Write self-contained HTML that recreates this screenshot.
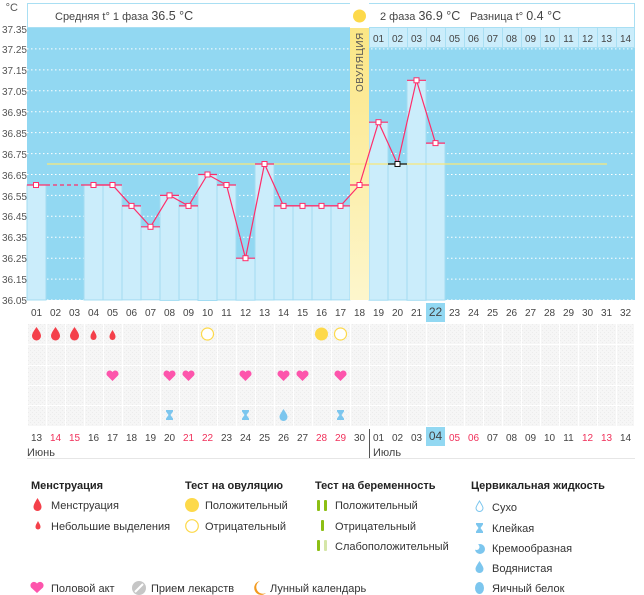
<!DOCTYPE html>
<html><head><meta charset="utf-8"><style>
body{margin:0;background:#fff;}
svg{display:block;font-family:"Liberation Sans",sans-serif;}
</style></head><body>
<svg width="644" height="595" viewBox="0 0 644 595" xmlns="http://www.w3.org/2000/svg">
<defs>
<linearGradient id="ov" x1="0" y1="0" x2="0" y2="1"><stop offset="0" stop-color="#fbe57e"/><stop offset="1" stop-color="#fdf6cc"/></linearGradient>
<pattern id="hat" width="4" height="4" patternUnits="userSpaceOnUse"><rect width="4" height="4" fill="#f6f6f6"/><rect width="1" height="1" fill="#ececec"/><rect x="2" y="2" width="1" height="1" fill="#ececec"/></pattern>
<pattern id="cols" x="27" y="0" width="19" height="600" patternUnits="userSpaceOnUse"><rect x="0" y="0" width="1" height="600" fill="#fff"/></pattern>
</defs>
<!-- header -->
<rect x="27.5" y="3.5" width="607" height="24" fill="#fff" stroke="#a9dff3"/>
<text x="55" y="20" font-size="11" fill="#444">Средняя t° 1 фаза <tspan font-size="12.5">36.5 °C</tspan></text>
<text x="380" y="20" font-size="11" fill="#444">2 фаза <tspan font-size="12.5">36.9 °C</tspan></text>
<text x="470" y="20" font-size="11" fill="#444">Разница t° <tspan font-size="12.5">0.4 °C</tspan></text>
<!-- plot bg -->
<rect x="27" y="28" width="608" height="272" fill="#92d8f2"/>
<!-- gridlines -->
<g stroke="#fff" stroke-dasharray="1.5,2.5" stroke-width="1">
<line x1="27" x2="635" y1="48.9" y2="48.9"/><line x1="27" x2="635" y1="69.9" y2="69.9"/><line x1="27" x2="635" y1="90.8" y2="90.8"/><line x1="27" x2="635" y1="111.7" y2="111.7"/><line x1="27" x2="635" y1="132.6" y2="132.6"/><line x1="27" x2="635" y1="153.6" y2="153.6"/><line x1="27" x2="635" y1="174.5" y2="174.5"/><line x1="27" x2="635" y1="195.4" y2="195.4"/><line x1="27" x2="635" y1="216.3" y2="216.3"/><line x1="27" x2="635" y1="237.3" y2="237.3"/><line x1="27" x2="635" y1="258.2" y2="258.2"/><line x1="27" x2="635" y1="279.1" y2="279.1"/><line x1="27" x2="635" y1="300" y2="300"/>
</g>
<!-- bars -->
<g fill="#cbedfb" stroke="#a3dcf2" stroke-width="1">
<rect x="27" y="185" width="19" height="115"/>
<rect x="84" y="185" width="19" height="115"/><rect x="103" y="185" width="19" height="115"/>
<rect x="122" y="205.9" width="19" height="94"/><rect x="141" y="226.8" width="19" height="73"/>
<rect x="160" y="195.4" width="19" height="105"/><rect x="179" y="205.9" width="19" height="94"/>
<rect x="198" y="174.5" width="19" height="126"/><rect x="217" y="185" width="19" height="115"/>
<rect x="236" y="258.2" width="19" height="42"/><rect x="255" y="164" width="19" height="136"/>
<rect x="274" y="205.9" width="19" height="94"/><rect x="293" y="205.9" width="19" height="94"/>
<rect x="312" y="205.9" width="19" height="94"/><rect x="331" y="205.9" width="19" height="94"/>
<rect x="369" y="122.2" width="19" height="178"/><rect x="388" y="164" width="19" height="136"/>
<rect x="407" y="80.3" width="19" height="220"/><rect x="426" y="143.1" width="19" height="157"/>
</g>
<!-- phase 2 header row -->
<g fill="#cbedfb" stroke="#a9dff3">
<rect x="369.5" y="27.5" width="19" height="20"/><rect x="388.5" y="27.5" width="19" height="20"/><rect x="407.5" y="27.5" width="19" height="20"/><rect x="426.5" y="27.5" width="19" height="20"/><rect x="445.5" y="27.5" width="19" height="20"/><rect x="464.5" y="27.5" width="19" height="20"/><rect x="483.5" y="27.5" width="19" height="20"/><rect x="502.5" y="27.5" width="19" height="20"/><rect x="521.5" y="27.5" width="19" height="20"/><rect x="540.5" y="27.5" width="19" height="20"/><rect x="559.5" y="27.5" width="19" height="20"/><rect x="578.5" y="27.5" width="19" height="20"/><rect x="597.5" y="27.5" width="19" height="20"/><rect x="616.5" y="27.5" width="18" height="20"/>
</g>
<g font-size="10" fill="#444" text-anchor="middle">
<text x="378.5" y="42">01</text><text x="397.5" y="42">02</text><text x="416.5" y="42">03</text><text x="435.5" y="42">04</text><text x="454.5" y="42">05</text><text x="473.5" y="42">06</text><text x="492.5" y="42">07</text><text x="511.5" y="42">08</text><text x="530.5" y="42">09</text><text x="549.5" y="42">10</text><text x="568.5" y="42">11</text><text x="587.5" y="42">12</text><text x="606.5" y="42">13</text><text x="625.5" y="42">14</text>
</g>
<!-- ovulation column -->
<rect x="350" y="3" width="19" height="297" fill="url(#ov)"/>
<rect x="350" y="3" width="19" height="25" fill="#fff"/>
<circle cx="359.5" cy="16" r="6.5" fill="#fdd94a"/>
<text transform="translate(363,92) rotate(-90)" font-size="10" fill="#555" letter-spacing="0.5">ОВУЛЯЦИЯ</text>
<!-- average line -->
<line x1="47" x2="607" y1="164" y2="164" stroke="#f8e77a" stroke-width="1.2"/>
<!-- horizontal value ticks -->
<g stroke="#ff2d6a" stroke-width="1.2">
<line x1="27" x2="46" y1="185" y2="185"/><line x1="84" x2="103" y1="185" y2="185"/><line x1="103" x2="122" y1="185" y2="185"/><line x1="122" x2="141" y1="205.9" y2="205.9"/><line x1="141" x2="160" y1="226.8" y2="226.8"/><line x1="160" x2="179" y1="195.4" y2="195.4"/><line x1="179" x2="198" y1="205.9" y2="205.9"/><line x1="198" x2="217" y1="174.5" y2="174.5"/><line x1="217" x2="236" y1="185" y2="185"/><line x1="236" x2="255" y1="258.2" y2="258.2"/><line x1="255" x2="274" y1="164" y2="164"/><line x1="274" x2="293" y1="205.9" y2="205.9"/><line x1="293" x2="312" y1="205.9" y2="205.9"/><line x1="312" x2="331" y1="205.9" y2="205.9"/><line x1="331" x2="350" y1="205.9" y2="205.9"/><line x1="350" x2="369" y1="185" y2="185"/><line x1="369" x2="388" y1="122.2" y2="122.2"/><line x1="407" x2="426" y1="80.3" y2="80.3"/><line x1="426" x2="445" y1="143.1" y2="143.1"/>
<line x1="46" x2="84" y1="185" y2="185" stroke-dasharray="4,3"/>
</g>
<line x1="388" x2="407" y1="164" y2="164" stroke="#111" stroke-width="1.2"/>
<polyline fill="none" stroke="#ff2d6a" stroke-width="1.2" points="93.5,185 112.5,185 131.5,205.9 150.5,226.8 169.5,195.4 188.5,205.9 207.5,174.5 226.5,185 245.5,258.2 264.5,164 283.5,205.9 302.5,205.9 321.5,205.9 340.5,205.9 359.5,185 378.5,122.2 397.5,164 416.5,80.3 435.5,143.1"/>
<g fill="#fff" stroke="#ff2d6a" stroke-width="1">
<rect x="33.5" y="182.5" width="5" height="5"/><rect x="91" y="182.5" width="5" height="5"/><rect x="110" y="182.5" width="5" height="5"/><rect x="129" y="203.4" width="5" height="5"/><rect x="148" y="224.3" width="5" height="5"/><rect x="167" y="192.9" width="5" height="5"/><rect x="186" y="203.4" width="5" height="5"/><rect x="205" y="172" width="5" height="5"/><rect x="224" y="182.5" width="5" height="5"/><rect x="243" y="255.7" width="5" height="5"/><rect x="262" y="161.5" width="5" height="5"/><rect x="281" y="203.4" width="5" height="5"/><rect x="300" y="203.4" width="5" height="5"/><rect x="319" y="203.4" width="5" height="5"/><rect x="338" y="203.4" width="5" height="5"/><rect x="357" y="182.5" width="5" height="5"/><rect x="376" y="119.7" width="5" height="5"/><rect x="414" y="77.8" width="5" height="5"/><rect x="433" y="140.6" width="5" height="5"/>
</g>
<rect x="395" y="161.5" width="5" height="5" fill="#fff" stroke="#111"/>
<!-- y axis labels -->
<g font-size="10" fill="#555" text-anchor="end">
<text x="18" y="11" font-size="11">°C</text>
<text x="27" y="33">37.35</text><text x="27" y="53">37.25</text><text x="27" y="74">37.15</text><text x="27" y="95">37.05</text><text x="27" y="116">36.95</text><text x="27" y="137">36.85</text><text x="27" y="158">36.75</text><text x="27" y="179">36.65</text><text x="27" y="200">36.55</text><text x="27" y="220">36.45</text><text x="27" y="241">36.35</text><text x="27" y="262">36.25</text><text x="27" y="283">36.15</text><text x="27" y="304">36.05</text>
</g>
<!-- today highlight -->
<rect x="426" y="303" width="19" height="19" fill="#92d8f2"/>
<rect x="426" y="427" width="19" height="19" fill="#92d8f2"/>
<!-- day numbers row -->
<g font-size="10" fill="#444" text-anchor="middle">
<text x="36.5" y="316">01</text><text x="55.5" y="316">02</text><text x="74.5" y="316">03</text><text x="93.5" y="316">04</text><text x="112.5" y="316">05</text><text x="131.5" y="316">06</text><text x="150.5" y="316">07</text><text x="169.5" y="316">08</text><text x="188.5" y="316">09</text><text x="207.5" y="316">10</text><text x="226.5" y="316">11</text><text x="245.5" y="316">12</text><text x="264.5" y="316">13</text><text x="283.5" y="316">14</text><text x="302.5" y="316">15</text><text x="321.5" y="316">16</text><text x="340.5" y="316">17</text><text x="359.5" y="316">18</text><text x="378.5" y="316">19</text><text x="397.5" y="316">20</text><text x="416.5" y="316">21</text><text x="435.5" y="316" font-size="12">22</text><text x="454.5" y="316">23</text><text x="473.5" y="316">24</text><text x="492.5" y="316">25</text><text x="511.5" y="316">26</text><text x="530.5" y="316">27</text><text x="549.5" y="316">28</text><text x="568.5" y="316">29</text><text x="587.5" y="316">30</text><text x="606.5" y="316">31</text><text x="625.5" y="316">32</text>
</g>
<!-- icon grid rows -->
<g fill="url(#hat)">
<rect x="28" y="324" width="606" height="20"/><rect x="28" y="345" width="606" height="20"/><rect x="28" y="366" width="606" height="19"/><rect x="28" y="386" width="606" height="19"/><rect x="28" y="406" width="606" height="20"/>
</g>
<rect x="27" y="324" width="608" height="102" fill="url(#cols)"/>
<!-- icons -->
<g fill="#f4404a">
<path d="M36.5 327 C33 332 32 334 32 336 A4.5 4.5 0 0 0 41 336 C41 334 40 332 36.5 327Z"/>
<path d="M55.5 327 C52 332 51 334 51 336 A4.5 4.5 0 0 0 60 336 C60 334 59 332 55.5 327Z"/>
<path d="M74.5 327 C71 332 70 334 70 336 A4.5 4.5 0 0 0 79 336 C79 334 78 332 74.5 327Z"/>
<path d="M93.5 330 C91 334 90.5 335 90.5 337 A3 3 0 0 0 96.5 337 C96.5 335 96 334 93.5 330Z"/>
<path d="M112.5 330 C110 334 109.5 335 109.5 337 A3 3 0 0 0 115.5 337 C115.5 335 115 334 112.5 330Z"/>
</g>
<circle cx="207.5" cy="334" r="6" fill="#fff" stroke="#fdd94a" stroke-width="1.2"/>
<circle cx="321.5" cy="334" r="6.5" fill="#fdd94a"/>
<circle cx="340.5" cy="334" r="6" fill="#fff" stroke="#fdd94a" stroke-width="1.2"/>
<g fill="#fd55ac">
<path d="M112.5 381 L107 375.5 A3 3 0 0 1 112.5 372 A3 3 0 0 1 118 375.5Z"/>
<path d="M169.5 381 L164 375.5 A3 3 0 0 1 169.5 372 A3 3 0 0 1 175 375.5Z"/>
<path d="M188.5 381 L183 375.5 A3 3 0 0 1 188.5 372 A3 3 0 0 1 194 375.5Z"/>
<path d="M245.5 381 L240 375.5 A3 3 0 0 1 245.5 372 A3 3 0 0 1 251 375.5Z"/>
<path d="M283.5 381 L278 375.5 A3 3 0 0 1 283.5 372 A3 3 0 0 1 289 375.5Z"/>
<path d="M302.5 381 L297 375.5 A3 3 0 0 1 302.5 372 A3 3 0 0 1 308 375.5Z"/>
<path d="M340.5 381 L335 375.5 A3 3 0 0 1 340.5 372 A3 3 0 0 1 346 375.5Z"/>
</g>
<g fill="#7cc6ee">
<path d="M166 410 h7 v1.5 l-2.5 3.5 l2.5 3.5 v1.5 h-7 v-1.5 l2.5 -3.5 l-2.5 -3.5Z"/>
<path d="M242 410 h7 v1.5 l-2.5 3.5 l2.5 3.5 v1.5 h-7 v-1.5 l2.5 -3.5 l-2.5 -3.5Z"/>
<path d="M337 410 h7 v1.5 l-2.5 3.5 l2.5 3.5 v1.5 h-7 v-1.5 l2.5 -3.5 l-2.5 -3.5Z"/>
<path d="M283.5 409 C281 413 279.5 415 279.5 417 A4 4 0 0 0 287.5 417 C287.5 415 286 413 283.5 409Z"/>
</g>
<!-- dates row -->
<g font-size="10" fill="#444" text-anchor="middle">
<text x="36.5" y="441">13</text><text x="55.5" y="441" fill="#f0305a">14</text><text x="74.5" y="441" fill="#f0305a">15</text><text x="93.5" y="441">16</text><text x="112.5" y="441">17</text><text x="131.5" y="441">18</text><text x="150.5" y="441">19</text><text x="169.5" y="441">20</text><text x="188.5" y="441" fill="#f0305a">21</text><text x="207.5" y="441" fill="#f0305a">22</text><text x="226.5" y="441">23</text><text x="245.5" y="441">24</text><text x="264.5" y="441">25</text><text x="283.5" y="441">26</text><text x="302.5" y="441">27</text><text x="321.5" y="441" fill="#f0305a">28</text><text x="340.5" y="441" fill="#f0305a">29</text><text x="359.5" y="441">30</text><text x="378.5" y="441">01</text><text x="397.5" y="441">02</text><text x="416.5" y="441">03</text><text x="435.5" y="440" font-size="12">04</text><text x="454.5" y="441" fill="#f0305a">05</text><text x="473.5" y="441" fill="#f0305a">06</text><text x="492.5" y="441">07</text><text x="511.5" y="441">08</text><text x="530.5" y="441">09</text><text x="549.5" y="441">10</text><text x="568.5" y="441">11</text><text x="587.5" y="441" fill="#f0305a">12</text><text x="606.5" y="441" fill="#f0305a">13</text><text x="625.5" y="441">14</text>
</g>
<line x1="369.5" x2="369.5" y1="429" y2="458" stroke="#555"/>
<line x1="27" x2="635" y1="458.5" y2="458.5" stroke="#e6e6e6"/>
<text x="27" y="456" font-size="11" fill="#444">Июнь</text>
<text x="373" y="456" font-size="11" fill="#444">Июль</text>
<!-- legend -->
<g font-size="11" fill="#222" font-weight="bold">
<text x="31" y="489">Менструация</text><text x="185" y="489">Тест на овуляцию</text><text x="315" y="489">Тест на беременность</text><text x="471" y="489">Цервикальная жидкость</text>
</g>
<g font-size="11" fill="#333">
<text x="51" y="509">Менструация</text><text x="51" y="530">Небольшие выделения</text>
<text x="205" y="509">Положительный</text><text x="205" y="530">Отрицательный</text>
<text x="335" y="509">Положительный</text><text x="335" y="530">Отрицательный</text><text x="335" y="550">Слабоположительный</text>
<text x="492" y="511">Сухо</text><text x="492" y="532">Клейкая</text><text x="492" y="552">Кремообразная</text><text x="492" y="572">Водянистая</text><text x="492" y="592">Яичный белок</text>
<text x="51" y="592">Половой акт</text><text x="151" y="592">Прием лекарств</text><text x="270" y="592">Лунный календарь</text>
</g>
<g fill="#f4404a">
<path d="M37.5 498 C34.5 503 33.5 505 33.5 507 A4 4 0 0 0 41.5 507 C41.5 505 40.5 503 37.5 498Z"/>
<path d="M38 521 C36 524.5 35.5 525.5 35.5 527 A2.5 2.5 0 0 0 40.5 527 C40.5 525.5 40 524.5 38 521Z"/>
</g>
<circle cx="192" cy="505" r="7" fill="#fdd94a"/>
<circle cx="192" cy="526" r="6.3" fill="#fff" stroke="#fdd94a" stroke-width="1.2"/>
<g fill="#8cbf14">
<rect x="317" y="500" width="3" height="11" rx="1"/><rect x="324" y="500" width="3" height="11" rx="1"/>
<rect x="321" y="520" width="3" height="11" rx="1"/>
<rect x="317" y="540" width="3" height="11" rx="1"/><rect x="324" y="540" width="3" height="11" rx="1" fill="#d5e6a8"/>
</g>
<g fill="#7cc6ee">
<path d="M479.5 501 C477 505 476 506.5 476 508 A3.5 3.5 0 0 0 483 508 C483 506.5 482 505 479.5 501Z" fill="#fff" stroke="#7cc6ee"/>
<path d="M476 523 h7 v1.5 l-2.5 3.5 l2.5 3.5 v1.5 h-7 v-1.5 l2.5 -3.5 l-2.5 -3.5Z"/>
<circle cx="480" cy="549" r="5"/>
<circle cx="476.5" cy="547" r="3" fill="#fff"/>
<path d="M479.5 561 C477 565 475.5 567 475.5 569 A4 4 0 0 0 483.5 569 C483.5 567 482 565 479.5 561Z"/>
<ellipse cx="479.5" cy="588" rx="4.5" ry="6"/>
</g>
<path d="M37 593 L31 587.5 A3.3 3.3 0 0 1 37 583.5 A3.3 3.3 0 0 1 43 587.5Z" fill="#fd55ac"/>
<circle cx="139" cy="588" r="7" fill="#c6c6c6"/><line x1="135" y1="592" x2="143" y2="584" stroke="#fff" stroke-width="2"/>
<path d="M260 581 A7 7 0 1 0 266 593 A6 6 0 0 1 260 581Z" fill="#f39a1e"/>
</svg>
</body></html>
